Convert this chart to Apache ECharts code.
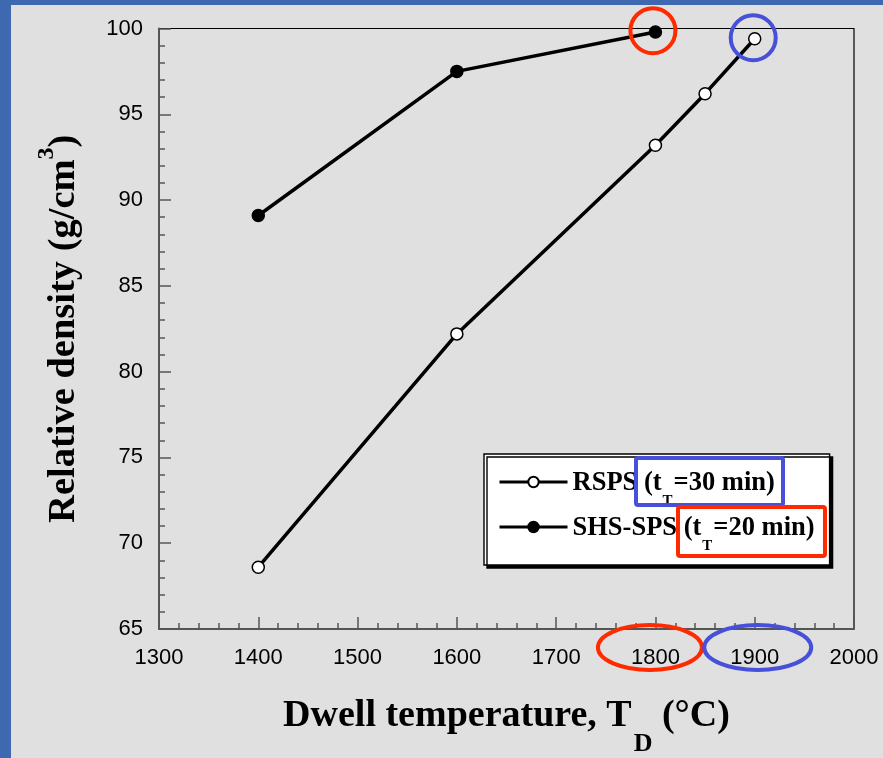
<!DOCTYPE html>
<html>
<head>
<meta charset="utf-8">
<script src="https://cdn.jsdelivr.net/npm/echarts@6/dist/echarts.min.js"></script>
<style>
  html, body { margin: 0; padding: 0; background: #e0e0e0; }
  #chart { width: 883px; height: 758px; }
</style>
</head>
<body>
<div id="chart"></div>
<script>
// Relative density vs. dwell temperature for two sintering routes
const seriesNames = ['RSPS', 'SHS-SPS'];
const dwellTimes = ['30 min', '20 min'];

const rspsTemp = [1400, 1600, 1800, 1850, 1900];
const rspsDensity = [68.6, 82.2, 93.2, 96.2, 99.4];

const shsTemp = [1400, 1600, 1800];
const shsDensity = [89.1, 97.5, 99.8];

const xTicks = { min: 1300, max: 2000, step: 100 };
const yTicks = { min: 65, max: 100, step: 5 };

const SERIF = "'Liberation Serif', 'Times New Roman', serif";
const SANS = "'Liberation Sans', Arial, sans-serif";
const AXIS_GRAY = '#555';
const RED = '#ff2a00';
const BLUE = '#4650d8';

const pairs = (xs, ys) => xs.map((x, i) => [x, ys[i]]);

const chart = echarts.init(document.getElementById('chart'), null, { renderer: 'canvas' });

const axisCommon = {
  type: 'value',
  splitLine: { show: false },
  axisLine: { show: true, lineStyle: { color: AXIS_GRAY, width: 2 } },
  axisTick: { show: true, inside: true, length: 12, lineStyle: { color: AXIS_GRAY, width: 1.5 } },
  minorTick: { show: true, splitNumber: 5, length: 6, lineStyle: { color: AXIS_GRAY, width: 1.5 } },
  axisLabel: { color: '#000', fontFamily: SANS, fontSize: 22, formatter: (v) => String(v) }
};

const option = {
  backgroundColor: '#e0e0e0',
  animation: false,
  grid: {
    left: 159, right: 29, top: 28.5, bottom: 129,
    outerBoundsMode: 'none',
    containLabel: false,
    show: true, borderColor: '#000', borderWidth: 1.2, backgroundColor: 'transparent'
  },
  xAxis: Object.assign({}, axisCommon, {
    min: xTicks.min, max: xTicks.max, interval: xTicks.step,
    axisLabel: Object.assign({}, axisCommon.axisLabel, { margin: 17.5 }),
    name: '{m|Dwell temperature, T}{sub|D}{m| (°C)}',
    nameLocation: 'middle',
    nameGap: 68,
    nameTextStyle: {
      verticalAlign: 'top',
      rich: {
        m: { fontFamily: SERIF, fontWeight: 'bold', fontSize: 38, lineHeight: 44, color: '#000', verticalAlign: 'top' },
        sub: { fontFamily: SERIF, fontWeight: 'bold', fontSize: 26, lineHeight: 26, color: '#000', verticalAlign: 'top', padding: [34, 0, 0, 2] }
      }
    }
  }),
  yAxis: Object.assign({}, axisCommon, {
    min: yTicks.min, max: yTicks.max, interval: yTicks.step,
    axisLabel: Object.assign({}, axisCommon.axisLabel, { margin: 16 }),
    name: '{m|Relative density (g/cm}{sup|3}{m|)}',
    nameLocation: 'middle',
    nameRotate: 90,
    nameGap: 78,
    nameTextStyle: {
      verticalAlign: 'bottom',
      rich: {
        m: { fontFamily: SERIF, fontWeight: 'bold', fontSize: 38.5, lineHeight: 46, color: '#000', verticalAlign: 'top', padding: [9.5, 0, 0, 0] },
        sup: { fontFamily: SERIF, fontWeight: 'bold', fontSize: 24, lineHeight: 24, color: '#000', verticalAlign: 'top' }
      }
    }
  }),
  legend: {
    orient: 'vertical',
    left: 484,
    top: 454,
    padding: [13, 15, 11, 14],
    itemGap: 3,
    itemWidth: 68,
    itemHeight: 13,
    backgroundColor: '#fff',
    borderColor: '#000',
    borderWidth: 1.4,
    shadowColor: '#000',
    shadowBlur: 0,
    shadowOffsetX: 3,
    shadowOffsetY: 3,
    lineStyle: { width: 3 },
    data: seriesNames,
    formatter: function (name) {
      const t = dwellTimes[seriesNames.indexOf(name)];
      return '{b|' + name + ' (t}{s|T}{b|=' + t + ')}';
    },
    textStyle: {
      rich: {
        b: { fontFamily: SERIF, fontWeight: 'bold', fontSize: 26.5, lineHeight: 30, color: '#000', verticalAlign: 'top', padding: [2.5, 0, 0, 0] },
        s: { fontFamily: SERIF, fontWeight: 'bold', fontSize: 15, lineHeight: 15, color: '#000', verticalAlign: 'top', padding: [27, 1, 0, 1] }
      }
    }
  },
  series: [
    {
      name: seriesNames[0],
      type: 'line',
      data: pairs(rspsTemp, rspsDensity),
      symbol: 'circle',
      symbolSize: 12,
      lineStyle: { color: '#000', width: 3.5 },
      itemStyle: { color: '#fff', borderColor: '#000', borderWidth: 1.5 },
      z: 3
    },
    {
      name: seriesNames[1],
      type: 'line',
      data: pairs(shsTemp, shsDensity),
      symbol: 'circle',
      symbolSize: 12,
      lineStyle: { color: '#000', width: 3.5 },
      itemStyle: { color: '#000', borderColor: '#000', borderWidth: 1.5 },
      z: 3
    }
  ]
};

chart.setOption(option);

// Highlight rings around the final points and around the matching tick labels
const lastRsps = chart.convertToPixel({ gridIndex: 0 }, [rspsTemp[rspsTemp.length - 1], rspsDensity[rspsDensity.length - 1]]);
const lastShs = chart.convertToPixel({ gridIndex: 0 }, [shsTemp[shsTemp.length - 1], shsDensity[shsDensity.length - 1]]);
const tick1800 = chart.convertToPixel({ gridIndex: 0 }, [1800, yTicks.min]);
const tick1900 = chart.convertToPixel({ gridIndex: 0 }, [1900, yTicks.min]);

const ring = (color) => ({ fill: 'none', stroke: color, lineWidth: 4 });

chart.setOption({
  graphic: [
    // frame strips along the top and left edges
    { type: 'rect', left: 0, top: 0, shape: { width: 883, height: 5 }, style: { fill: '#3e69b0' }, silent: true, z: 0 },
    { type: 'rect', left: 0, top: 0, shape: { width: 11, height: 758 }, style: { fill: '#3e69b0' }, silent: true, z: 0 },
    { type: 'circle', shape: { cx: lastShs[0] - 2.5, cy: lastShs[1] - 1.3, r: 22.5 }, style: ring(RED), silent: true, z: 10 },
    { type: 'circle', shape: { cx: lastRsps[0] - 1.5, cy: lastRsps[1] - 1, r: 22.5 }, style: ring(BLUE), silent: true, z: 10 },
    { type: 'ellipse', shape: { cx: tick1800[0] - 5.5, cy: tick1800[1] + 18.5, rx: 52, ry: 22.5 }, style: ring(RED), silent: true, z: 10 },
    { type: 'ellipse', shape: { cx: tick1900[0] + 3, cy: tick1900[1] + 18.5, rx: 53.5, ry: 22.5 }, style: ring(BLUE), silent: true, z: 10 },
    // boxes around the dwell-time notes in the legend
    { type: 'rect', shape: { x: 636, y: 458, width: 147, height: 47, r: 2 }, style: ring(BLUE), silent: true, z: 10 },
    { type: 'rect', shape: { x: 678, y: 507, width: 147, height: 49, r: 2 }, style: ring(RED), silent: true, z: 10 }
  ]
});
</script>
</body>
</html>
